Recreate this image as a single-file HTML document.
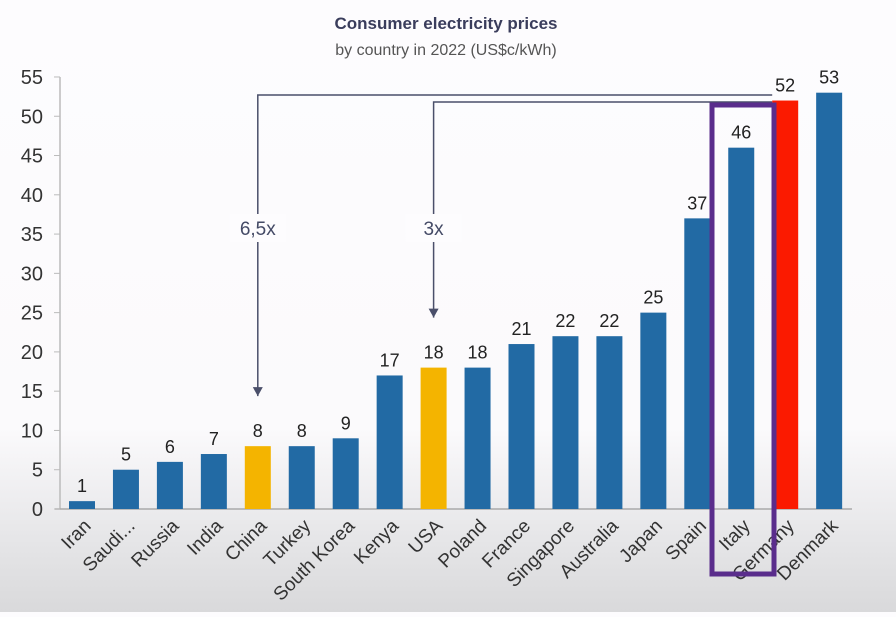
<!DOCTYPE html>
<html><head><meta charset="utf-8"><style>
html,body{margin:0;padding:0;}
body{width:896px;height:612px;overflow:hidden;background:linear-gradient(#fdfcfe 0%,#fbfafc 70%,#e6e6e8 88%,#d9d9db 100%);font-family:"Liberation Sans",sans-serif;}
</style></head><body>
<svg id="chart" width="896" height="612" xmlns="http://www.w3.org/2000/svg" font-family="Liberation Sans, sans-serif">
<text x="446" y="29" text-anchor="middle" font-size="17" font-weight="bold" fill="#3a3d5c">Consumer electricity prices</text>
<text x="446" y="55" text-anchor="middle" font-size="16" fill="#555">by country in 2022 (US$c/kWh)</text>
<g id="axes"></g><g id="bars"></g><g id="notes"></g>
</svg>
<script>
const categories=["Iran","Saudi...","Russia","India","China","Turkey","South Korea","Kenya","USA","Poland","France","Singapore","Australia","Japan","Spain","Italy","Germany","Denmark"];
const values=[1,5,6,7,8,8,9,17,18,18,21,22,22,25,37,46,52,53];
const colorsKey=["b","b","b","b","y","b","b","b","y","b","b","b","b","b","b","b","r","b"];
const yTicks=[0,5,10,15,20,25,30,35,40,45,50,55];
const NS="http://www.w3.org/2000/svg";
const y0=509,yScale=7.855,x0=82,step=43.95,bw=26;
const y=v=>y0-v*yScale, x=i=>x0+i*step;
const pal={b:"#226aa4",y:"#f4b400",r:"#fb1a00"};
function mk(t,a,p){const e=document.createElementNS(NS,t);for(const k in a)e.setAttribute(k,a[k]);p.appendChild(e);return e;}
const ax=document.getElementById('axes'),bars=document.getElementById('bars'),notes=document.getElementById('notes');
const yl=mk('line',{x1:60,x2:60,y1:y(55),y2:y0,stroke:"#bbb","stroke-width":1.5},ax);


const xl=mk('line',{x1:55,x2:852,y1:y0,y2:y0,stroke:"#aaa","stroke-width":1.5},ax);


yTicks.forEach(t=>{
 const tk=mk('line',{x1:54,x2:60,y1:y(t),y2:y(t),stroke:"#bbb"},ax);
 
 
 const tl=mk('text',{x:43,y:y(t)+7,"text-anchor":"end","font-size":20,fill:"#333"},ax);
 tl.textContent=t;
 
 
});
values.forEach((v,i)=>{
 const r=mk('rect',{x:x(i)-bw/2,y:y(v),width:bw,height:v*yScale,fill:pal[colorsKey[i]]},bars);
 
 
 const vl=mk('text',{x:x(i),y:y(v)-9,"text-anchor":"middle","font-size":18,fill:"#222"},bars);
 vl.textContent=v;
 
 
 const lx=x(i)+10,ly=y0+18;
 const cl=mk('text',{x:lx,y:ly,"text-anchor":"end","font-size":19,fill:"#333",transform:`rotate(-45 ${lx} ${ly})`},bars);
 cl.textContent=categories[i];
 
 
});
const gi=16,ci=4,ui=8;
function arrow(xi,yTop,yEnd,label,name){
 const p=mk('path',{d:`M${x(gi)-bw/2} ${yTop} H${x(xi)} V${yEnd}`,fill:"none",stroke:"#4a4f6a","stroke-width":1.5},notes);
 
 
 const h=mk('path',{d:`M${x(xi)-5} ${yEnd-9} L${x(xi)+5} ${yEnd-9} L${x(xi)} ${yEnd} Z`,fill:"#4a4f6a"},notes);
 
 
 mk('rect',{x:x(xi)-28,y:214,width:56,height:28,fill:"#fdfcfe"},notes);
 const t=mk('text',{x:x(xi),y:235,"text-anchor":"middle","font-size":19,fill:"#444a66"},notes);
 t.textContent=label;
 
 
}
arrow(ci,95,y(values[ci])-50,"6,5x","china-ratio");
arrow(ui,102,y(values[ui])-50,"3x","usa-ratio");
const hl=mk('rect',{x:712,y:105,width:62,height:469,fill:"none",stroke:"#5a2d8c","stroke-width":5},notes);


</script>
</body></html>
